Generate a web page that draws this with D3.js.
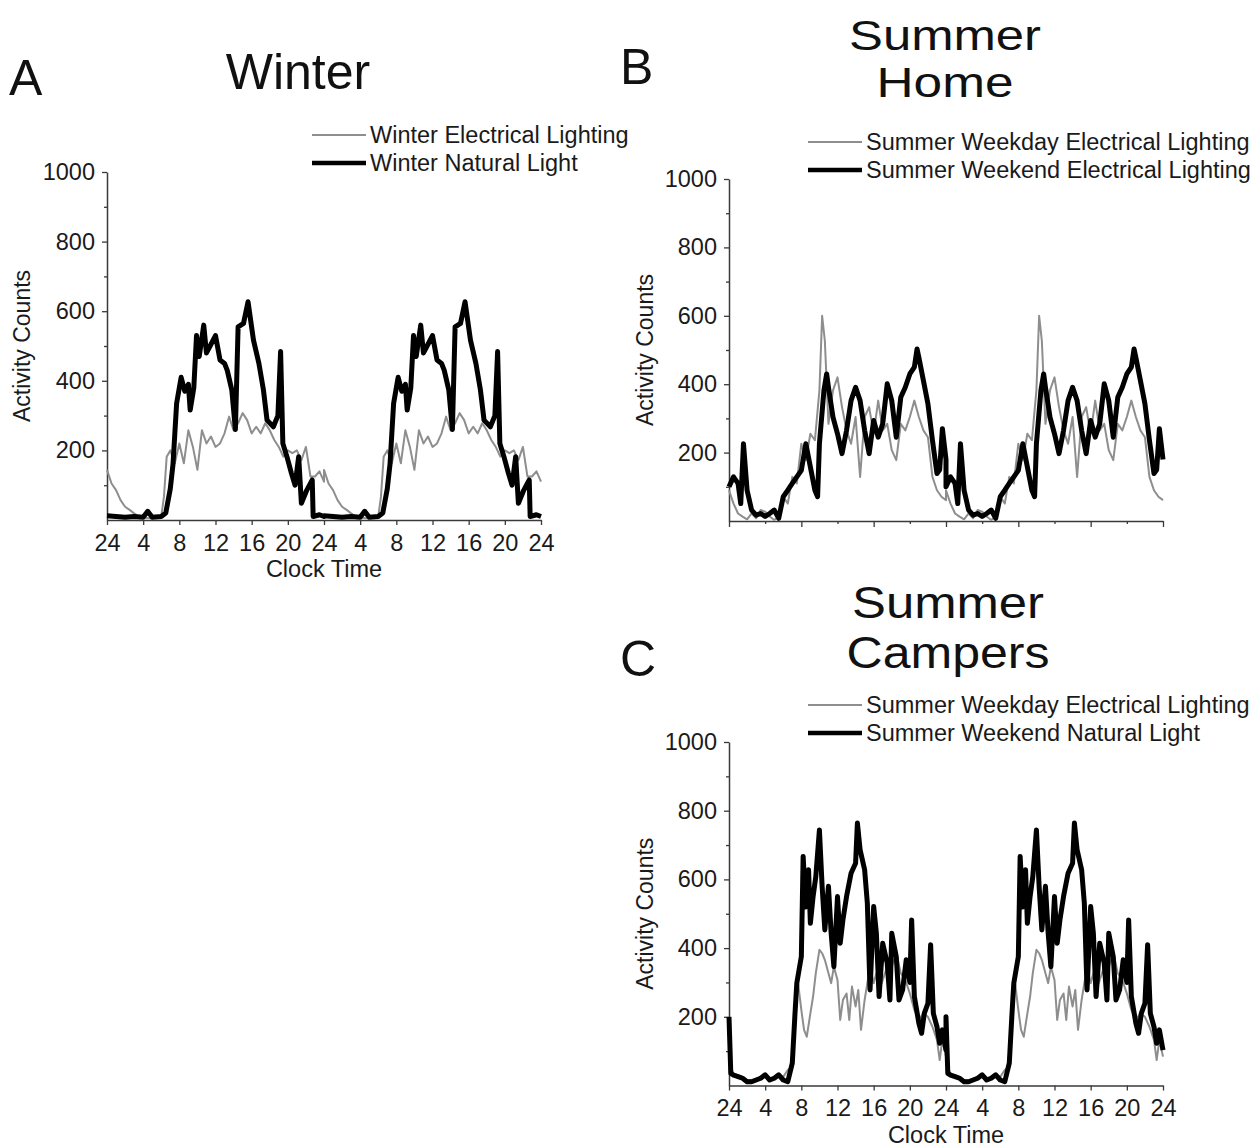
<!DOCTYPE html>
<html>
<head>
<meta charset="utf-8">
<script src="https://cdn.jsdelivr.net/npm/d3@7"></script>
<style>
  html, body { margin: 0; padding: 0; background: #fff; }
  svg { display: block; font-family: "Liberation Sans", Arial, sans-serif; }
</style>
</head>
<body>
<svg id="chart" width="1252" height="1146"></svg>
<script>
// ---------------- DATA (one day, 0-24 h; double-plotted over 48 h) ----------------
const yTickValues = [200, 400, 600, 800, 1000];
const yMinorTickValues = [100, 300, 500, 700, 900];
const xTickHours = [0, 4, 8, 12, 16, 20, 24, 28, 32, 36, 40, 44, 48];
const xMajorHoursB = [0, 8, 16, 24, 32, 40, 48];
const xMinorHoursB = [4, 12, 20, 28, 36, 44];

// Panel A - Winter
const winterElecHours  = [0,0.5,1,1.5,2,2.5,3,3.5,4,4.5,5,5.5,6,6.3,6.6,7,7.5,8,8.5,9,9.5,10,10.5,11,11.5,12,12.5,13,13.5,14,14.5,15,15.5,16,16.5,17,17.5,18,18.5,19,19.5,20,20.5,21,21.5,22,22.5,23,23.5,24];
const winterElecCounts = [144,105,86,57,38,29,19,10,8,6,5,8,10,67,182,200,163,220,163,258,210,144,258,220,240,210,220,249,297,258,278,307,287,249,268,249,278,258,230,210,182,200,192,200,172,210,125,125,140,110];
const winterNatHours  = [0,1,2,3,4,4.5,5,6,6.5,7,7.3,7.7,8,8.2,8.6,9,9.2,9.6,9.9,10.2,10.7,11,11.4,12,12.5,13,13.3,13.8,14.2,14.5,15.1,15.6,16.2,16.8,17.3,17.7,18.4,18.9,19.2,19.45,19.9,20.4,20.8,21.2,21.5,22.1,22.7,22.8,23.5,24];
const winterNatCounts = [12,10,8,10,8,25,8,10,20,90,160,335,380,410,370,390,316,380,530,470,560,480,500,530,460,450,430,374,260,555,565,627,517,450,374,287,268,300,484,220,182,134,100,182,48,86,115,10,15,10];

// Panel B - Summer Home
const homeWeekdayHours  = [0,0.5,1,1.5,2,2.5,3,3.5,4,4.5,5,5.5,6,6.5,7,7.5,8,8.5,9,9.5,10,10.3,10.6,11,11.5,12,12.5,13,13.5,14,14.5,15,15.5,16,16.5,17,17.5,18,18.5,19,19.5,20,20.5,21,21.5,22,22.5,23,23.5,24];
const homeWeekdayCounts = [90,51,22,13,5,22,8,32,27,13,3,13,71,51,129,110,226,178,255,236,382,600,527,284,382,420,333,265,226,304,129,304,333,255,352,265,284,207,178,284,265,304,352,304,265,245,129,90,71,61];
const homeWeekendHours  = [0,0.5,1,1.3,1.6,2,2.5,3,3.5,4,4.5,5,5.5,6,6.5,7,7.5,8,8.5,9,9.5,9.8,10,10.5,10.8,11,11.5,12,12.5,13,13.5,14,14.5,15,15.5,16,16.5,17,17.5,18,18.5,19,19.5,20,20.5,20.8,21,21.5,22,22.5,23,23.3,23.6,24];
const homeWeekendCounts = [100,129,110,51,226,90,32,17,22,13,22,32,8,71,90,110,129,148,226,158,90,71,226,382,430,391,304,255,197,265,352,391,352,265,197,294,245,284,401,352,245,362,391,430,450,503,478,411,343,236,139,150,270,180];

// Panel C - Summer Campers
const campWeekdayHours  = [0,0.5,1,1.5,2,2.5,3,3.5,4,4.5,5,5.5,6,6.5,7,7.3,7.6,8,8.3,8.6,9,9.3,9.6,10,10.3,10.6,11,11.3,11.6,12,12.3,12.6,13,13.3,13.6,14,14.3,14.6,15,15.3,15.6,16,16.3,16.6,17,17.5,18,18.5,19,19.5,20,20.5,21,21.5,22,22.5,23,23.3,23.6,24];
const campWeekdayCounts = [60,35,30,25,15,15,20,25,30,20,25,30,25,45,55,171,307,220,162,142,210,259,327,395,385,366,327,298,346,307,191,249,268,191,288,230,278,162,249,298,346,298,327,278,307,346,346,385,327,307,268,220,191,210,200,171,133,74,133,84];
const campWeekendHours  = [0,0.2,0.5,1,1.5,2,2.5,3,3.5,4,4.5,5,5.5,6,6.5,7,7.3,7.5,8,8.2,8.5,8.8,9,9.3,9.6,10,10.3,10.6,11,11.3,11.6,12,12.3,12.6,13,13.5,14,14.2,14.5,15,15.3,15.6,16,16.3,16.6,17,17.5,17.8,18,18.5,18.8,19.2,19.6,20,20.2,20.5,21,21.3,21.6,22,22.3,22.6,23,23.3,23.6,24];
const campWeekendCounts = [200,35,30,26,21,11,11,16,21,31,16,21,31,16,11,65,210,298,375,667,520,628,472,550,608,744,580,453,580,443,346,550,414,482,550,618,647,764,686,628,531,278,521,443,259,414,356,249,443,375,249,278,366,300,482,259,181,152,210,239,410,210,171,123,162,103];

// ---------------- DRAWING ----------------
const svg = d3.select("#chart");
const FONT_SMALL = 23.5;
const GRAY = "#8e8e8e";
const AXIS = "#3a3a3a";

function doublePlot(hours, counts) {
  const day1 = hours.map((h, i) => ({ h: h, c: counts[i] }));
  const day2 = hours.map((h, i) => ({ h: h + 24, c: counts[i] }));
  return day1.concat(day2);
}

function drawPanel(cfg) {
  const g = svg.append("g");
  const x = d3.scaleLinear().domain([0, 48]).range([cfg.x0, cfg.x1]);
  const y = d3.scaleLinear().domain([0, 1000]).range([cfg.y0, cfg.y1]);

  // y minor ticks
  g.append("g")
    .attr("transform", `translate(${cfg.x0},0)`)
    .call(d3.axisLeft(y).tickValues(yMinorTickValues).tickSize(3).tickFormat(""))
    .call(a => a.select(".domain").remove())
    .call(a => a.selectAll("line").attr("stroke", AXIS).attr("stroke-width", 1.3));
  // y axis
  g.append("g")
    .attr("transform", `translate(${cfg.x0},0)`)
    .call(d3.axisLeft(y).tickValues(yTickValues).tickSize(5).tickSizeOuter(0).tickPadding(7)
            .tickFormat(d3.format("d")))
    .call(a => a.select(".domain").attr("stroke", AXIS).attr("stroke-width", 1.5))
    .call(a => a.selectAll("line").attr("stroke", AXIS).attr("stroke-width", 1.3))
    .call(a => a.selectAll("text").attr("font-size", FONT_SMALL).attr("fill", "#1a1a1a")
                 .attr("font-family", "Liberation Sans, Arial, sans-serif"));

  // x axis
  if (cfg.xLabels) {
    g.append("g")
      .attr("transform", `translate(0,${cfg.y0})`)
      .call(d3.axisBottom(x).tickValues(xTickHours).tickSize(5).tickSizeOuter(0).tickPadding(9)
              .tickFormat(v => (v % 24 === 0 ? 24 : v % 24)))
      .call(a => a.select(".domain").attr("stroke", AXIS).attr("stroke-width", 1.5))
      .call(a => a.selectAll("line").attr("stroke", AXIS).attr("stroke-width", 1.3))
      .call(a => a.selectAll("text").attr("font-size", FONT_SMALL).attr("fill", "#1a1a1a")
                   .attr("font-family", "Liberation Sans, Arial, sans-serif"));
    g.append("text")
      .attr("x", (cfg.x0 + cfg.x1) / 2).attr("y", cfg.y0 + 57)
      .attr("text-anchor", "middle").attr("font-size", FONT_SMALL).attr("fill", "#1a1a1a")
      .text("Clock Time");
  } else {
    g.append("g")
      .attr("transform", `translate(0,${cfg.y0})`)
      .call(d3.axisBottom(x).tickValues(xMinorHoursB).tickSize(3).tickFormat(""))
      .call(a => a.select(".domain").remove())
      .call(a => a.selectAll("line").attr("stroke", AXIS).attr("stroke-width", 1.3));
    g.append("g")
      .attr("transform", `translate(0,${cfg.y0})`)
      .call(d3.axisBottom(x).tickValues(xMajorHoursB).tickSize(6).tickSizeOuter(0).tickFormat(""))
      .call(a => a.select(".domain").attr("stroke", AXIS).attr("stroke-width", 1.5))
      .call(a => a.selectAll("line").attr("stroke", AXIS).attr("stroke-width", 1.3));
  }

  // y label
  g.append("text")
    .attr("transform", `translate(${cfg.yLabelX},${(cfg.y0 + cfg.y1) / 2}) rotate(-90)`)
    .attr("text-anchor", "middle").attr("dominant-baseline", "central")
    .attr("font-size", FONT_SMALL - 0.5).attr("fill", "#1a1a1a")
    .text("Activity Counts");

  const line = d3.line().x(d => x(d.h)).y(d => y(d.c)).curve(d3.curveLinear);
  cfg.series.forEach(s => {
    g.append("path")
      .datum(doublePlot(s.hours, s.counts))
      .attr("d", line)
      .attr("fill", "none")
      .attr("stroke", s.color)
      .attr("stroke-width", s.width)
      .attr("stroke-linejoin", "round");
  });

  // legend
  cfg.series.forEach((s, i) => {
    const ly = cfg.legendY + i * 28;
    g.append("line")
      .attr("x1", cfg.legendX).attr("x2", cfg.legendX + 54)
      .attr("y1", ly).attr("y2", ly)
      .attr("stroke", s.color).attr("stroke-width", s.legendWidth);
    g.append("text")
      .attr("x", cfg.legendX + 58).attr("y", ly)
      .attr("dominant-baseline", "central")
      .attr("font-size", FONT_SMALL).attr("fill", "#1a1a1a")
      .text(s.name);
  });

  // titles
  g.append("text").attr("x", cfg.letterX).attr("y", cfg.letterY)
    .attr("font-size", 50).attr("fill", "#111").text(cfg.letter);
  cfg.titleLines.forEach((t, i) => {
    const tt = g.append("text").attr("x", cfg.titleX).attr("y", cfg.titleYs[i])
      .attr("text-anchor", "middle").attr("font-size", cfg.titleSize).attr("fill", "#111").text(t);
    if (cfg.titleWidths) {
      tt.attr("textLength", cfg.titleWidths[i]).attr("lengthAdjust", "spacingAndGlyphs");
    }
  });
}

drawPanel({
  x0: 107, x1: 541, y0: 520, y1: 172, xLabels: true, yLabelX: 22,
  legendX: 312, legendY: 135,
  letter: "A", letterX: 9, letterY: 95,
  titleLines: ["Winter"], titleX: 298, titleYs: [89], titleSize: 50,
  series: [
    { name: "Winter Electrical Lighting", hours: winterElecHours, counts: winterElecCounts, color: GRAY, width: 2, legendWidth: 2 },
    { name: "Winter Natural Light", hours: winterNatHours, counts: winterNatCounts, color: "#000", width: 5, legendWidth: 4.5 }
  ]
});

drawPanel({
  x0: 729, x1: 1163, y0: 521, y1: 179, xLabels: false, yLabelX: 645,
  legendX: 808, legendY: 142,
  letter: "B", letterX: 620, letterY: 84,
  titleLines: ["Summer", "Home"], titleX: 945, titleYs: [50, 97], titleSize: 42,
  titleWidths: [192, 137],
  series: [
    { name: "Summer Weekday Electrical Lighting", hours: homeWeekdayHours, counts: homeWeekdayCounts, color: GRAY, width: 2, legendWidth: 2 },
    { name: "Summer Weekend Electrical Lighting", hours: homeWeekendHours, counts: homeWeekendCounts, color: "#000", width: 5, legendWidth: 4.5 }
  ]
});

drawPanel({
  x0: 729, x1: 1163, y0: 1085.5, y1: 742, xLabels: true, yLabelX: 645,
  legendX: 808, legendY: 705,
  letter: "C", letterX: 620, letterY: 676,
  titleLines: ["Summer", "Campers"], titleX: 948, titleYs: [618, 668], titleSize: 44,
  titleWidths: [192, 203],
  series: [
    { name: "Summer Weekday Electrical Lighting", hours: campWeekdayHours, counts: campWeekdayCounts, color: GRAY, width: 2, legendWidth: 2 },
    { name: "Summer Weekend Natural Light", hours: campWeekendHours, counts: campWeekendCounts, color: "#000", width: 5, legendWidth: 4.5 }
  ]
});
</script>
</body>
</html>
